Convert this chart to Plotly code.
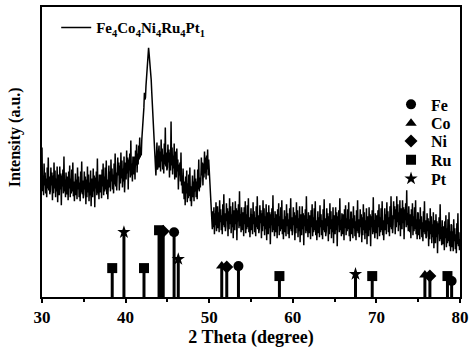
import plotly.graph_objects as go

# ---------------- data ----------------
two_theta_start = 30.0
two_theta_step = 0.0625
intensity = [
    150, 106, 122, 102, 134, 112, 125, 104, 119, 100, 130, 109, 140, 107, 121, 103,
    107, 130, 112, 125, 97, 122, 104, 135, 109, 127, 100, 119, 106, 131, 95, 123,
    119, 102, 131, 108, 124, 92, 122, 111, 128, 104, 141, 106, 118, 100, 125, 109,
    103, 121, 97, 126, 109, 132, 100, 119, 104, 128, 106, 135, 101, 116, 96, 123,
    124, 102, 118, 98, 130, 108, 121, 100, 115, 96, 126, 105, 136, 103, 117, 99,
    103, 126, 108, 121, 93, 118, 100, 131, 105, 123, 96, 115, 102, 127, 91, 119,
    117, 100, 129, 106, 122, 90, 120, 109, 126, 102, 139, 104, 116, 98, 123, 107,
    105, 123, 99, 128, 111, 134, 102, 121, 106, 130, 108, 137, 103, 118, 98, 125,
    132, 110, 126, 106, 138, 116, 129, 108, 123, 104, 134, 113, 144, 111, 125, 107,
    117, 140, 122, 135, 107, 132, 114, 145, 119, 137, 110, 129, 116, 141, 105, 133,
    135, 118, 147, 124, 140, 108, 138, 127, 144, 120, 157, 122, 134, 116, 141, 125,
    123, 141, 118, 147, 132, 153, 125, 144, 133, 152, 138, 160, 140, 150, 142, 158,
    165, 172, 180, 190, 205, 198, 200, 212, 218, 225, 232, 240, 250, 244, 238, 234,
    228, 218, 206, 196, 188, 172, 160, 150, 148, 135, 122, 140, 155, 128, 130, 145,
    152, 130, 146, 126, 158, 136, 149, 128, 143, 124, 154, 133, 170, 131, 145, 127,
    130, 153, 135, 148, 120, 145, 127, 176, 132, 150, 123, 142, 129, 154, 118, 146,
    137, 120, 149, 126, 138, 108, 133, 122, 135, 116, 145, 112, 122, 104, 129, 113,
    98, 116, 92, 121, 104, 127, 95, 114, 99, 123, 101, 130, 96, 111, 91, 118,
    122, 100, 116, 96, 128, 106, 119, 100, 116, 98, 128, 108, 138, 106, 120, 110,
    118, 140, 122, 135, 112, 134, 120, 146, 124, 140, 118, 142, 128, 148, 122, 138,
    128, 118, 102, 95, 90, 80, 68, 86, 70, 90, 63, 84, 72, 95, 66, 82,
    91, 69, 85, 65, 97, 75, 88, 67, 82, 63, 93, 72, 103, 70, 84, 66,
    71, 94, 76, 89, 61, 86, 68, 99, 73, 91, 64, 83, 70, 95, 59, 87,
    84, 67, 96, 73, 89, 57, 87, 76, 93, 69, 106, 71, 83, 65, 90, 74,
    67, 85, 61, 90, 73, 96, 64, 83, 68, 92, 70, 99, 65, 80, 60, 87,
    89, 67, 83, 63, 95, 73, 86, 65, 80, 61, 91, 70, 101, 68, 82, 64,
    69, 92, 74, 87, 59, 84, 66, 97, 71, 89, 62, 81, 68, 93, 57, 85,
    80, 63, 92, 69, 85, 53, 83, 72, 89, 65, 102, 67, 79, 61, 86, 70,
    65, 83, 59, 88, 71, 94, 62, 81, 66, 90, 68, 97, 63, 78, 58, 85,
    87, 65, 81, 61, 93, 71, 84, 63, 78, 59, 89, 68, 99, 66, 80, 62,
    67, 90, 72, 85, 57, 82, 64, 95, 69, 87, 60, 79, 66, 91, 55, 83,
    79, 62, 91, 68, 84, 52, 82, 71, 88, 64, 101, 66, 78, 60, 85, 69,
    64, 82, 58, 87, 70, 93, 61, 80, 65, 89, 67, 96, 62, 77, 57, 84,
    86, 64, 80, 60, 92, 70, 83, 62, 77, 58, 88, 67, 98, 65, 79, 61,
    66, 89, 71, 84, 56, 81, 63, 94, 68, 86, 59, 78, 65, 90, 54, 82,
    78, 63, 90, 67, 85, 51, 81, 72, 87, 65, 99, 67, 77, 61, 84, 70,
    63, 83, 57, 88, 69, 92, 62, 79, 66, 88, 68, 95, 61, 78, 56, 85,
    85, 63, 79, 59, 91, 69, 82, 61, 76, 57, 87, 66, 97, 64, 78, 60,
    65, 88, 70, 83, 55, 80, 62, 93, 67, 85, 58, 77, 64, 89, 53, 81,
    78, 61, 90, 67, 83, 51, 81, 70, 87, 63, 100, 65, 77, 59, 84, 68,
    64, 82, 58, 87, 70, 93, 61, 80, 65, 89, 67, 96, 62, 77, 57, 84,
    89, 67, 83, 63, 95, 73, 86, 65, 80, 61, 91, 70, 101, 68, 82, 64,
    73, 96, 78, 91, 63, 88, 70, 101, 75, 93, 66, 85, 72, 97, 61, 89,
    85, 68, 97, 74, 90, 58, 88, 77, 94, 70, 107, 72, 84, 66, 91, 75,
    65, 83, 59, 88, 71, 94, 62, 81, 66, 90, 68, 97, 63, 78, 58, 85,
    84, 62, 78, 58, 90, 68, 81, 60, 75, 56, 86, 65, 96, 63, 77, 59,
    61, 84, 66, 79, 51, 76, 58, 89, 63, 81, 54, 73, 60, 85, 49, 77,
    71, 54, 83, 60, 76, 44, 74, 63, 80, 56, 93, 58, 70, 52, 77, 61,
    53, 71, 47, 76, 59, 82, 50, 69, 54, 78, 56, 85, 51, 66, 46, 73,
    72, 50, 66, 46, 78, 56, 69, 48, 63, 44, 74, 53, 84, 51, 65, 47,
    58,
]
two_theta = [two_theta_start + i * two_theta_step for i in range(len(intensity))]

# reference (standard) peaks
fe_pos = [45.8, 53.5, 79.0]
fe_h = [65, 31, 16]
co_pos = [44.2, 51.5, 75.8]
co_h = [66, 31, 22]
ni_pos = [44.5, 52.1, 76.4]
ni_h = [66, 30, 21]
ru_pos = [38.4, 42.2, 44.0, 58.4, 69.5, 78.5]
ru_h = [29, 29, 67, 21, 21, 21]
pt_pos = [39.8, 46.3, 67.5]
pt_h = [65, 38, 23]

sample_name = "Fe<sub>4</sub>Co<sub>4</sub>Ni<sub>4</sub>Ru<sub>4</sub>Pt<sub>1</sub>"
x_ticks = [30, 40, 50, 60, 70, 80]

# ---------------- figure ----------------
FONT = "Liberation Serif, Times New Roman, serif"
fig = go.Figure()

fig.add_trace(go.Scatter(
    x=two_theta, y=intensity, mode="lines",
    line=dict(color="black", width=1.5),
    name="<b>" + sample_name + "</b>", legend="legend",
))

refs = [
    ("Fe", fe_pos, fe_h, "circle"),
    ("Co", co_pos, co_h, "triangle-up"),
    ("Ni", ni_pos, ni_h, "diamond"),
    ("Ru", ru_pos, ru_h, "square"),
    ("Pt", pt_pos, pt_h, "star"),
]
legend_y = [0.664, 0.599, 0.538, 0.473, 0.408]
legend_layout = {}
for k, ((name, pos, h, sym), ly) in enumerate(zip(refs, legend_y)):
    lname = "legend%d" % (k + 2)
    xs, ys = [], []
    for p, v in zip(pos, h):
        xs += [p, p, None]
        ys += [0, v, None]
    fig.add_trace(go.Scatter(
        x=xs, y=ys, mode="lines", line=dict(color="black", width=3),
        showlegend=False, hoverinfo="skip",
    ))
    fig.add_trace(go.Scatter(
        x=pos, y=h, mode="markers",
        marker=dict(symbol=sym, size=10, color="black"),
        name="<b>" + name + "</b>", legend=lname,
    ))
    legend_layout[lname] = dict(
        x=0.835, y=ly, xanchor="left", yanchor="middle",
        bgcolor="rgba(0,0,0,0)", borderwidth=0,
        font=dict(family=FONT, size=16, color="black"),
        itemwidth=30,
    )

fig.update_layout(
    width=474, height=351,
    margin=dict(l=42, r=14, t=5, b=54),
    plot_bgcolor="white", paper_bgcolor="white",
    font=dict(family=FONT, color="black", size=14),
    legend=dict(
        x=0.034, y=0.985, xanchor="left", yanchor="top",
        bgcolor="rgba(0,0,0,0)", borderwidth=0,
        font=dict(family=FONT, size=15, color="black"),
        itemwidth=30,
    ),
    xaxis=dict(
        range=[30, 80], tickvals=x_ticks,
        ticktext=["<b>%d</b>" % t for t in x_ticks],
        ticks="outside", ticklen=4, tickwidth=2, tickcolor="black",
        minor=dict(dtick=5, ticks="outside", ticklen=3, tickwidth=2, tickcolor="black"),
        showline=True, linecolor="black", linewidth=2, mirror=True,
        showgrid=False, zeroline=False,
        tickfont=dict(family=FONT, size=17, color="black"),
        title=dict(text="<b>2 Theta (degree)</b>", font=dict(family=FONT, size=18, color="black"), standoff=3),
    ),
    yaxis=dict(
        range=[0, 291], showticklabels=False, ticks="",
        showline=True, linecolor="black", linewidth=2, mirror=True,
        showgrid=False, zeroline=False,
    ),
    annotations=[dict(
        text="<b>Intensity (a.u.)</b>", textangle=-90,
        xref="paper", yref="paper", x=-0.065, y=0.55,
        xanchor="center", yanchor="middle", showarrow=False,
        font=dict(family=FONT, size=16, color="black"),
    )],
    **legend_layout,
)

fig.write_html("out.html", config={"displayModeBar": False},
               post_script="document.body.style.margin='0';")
